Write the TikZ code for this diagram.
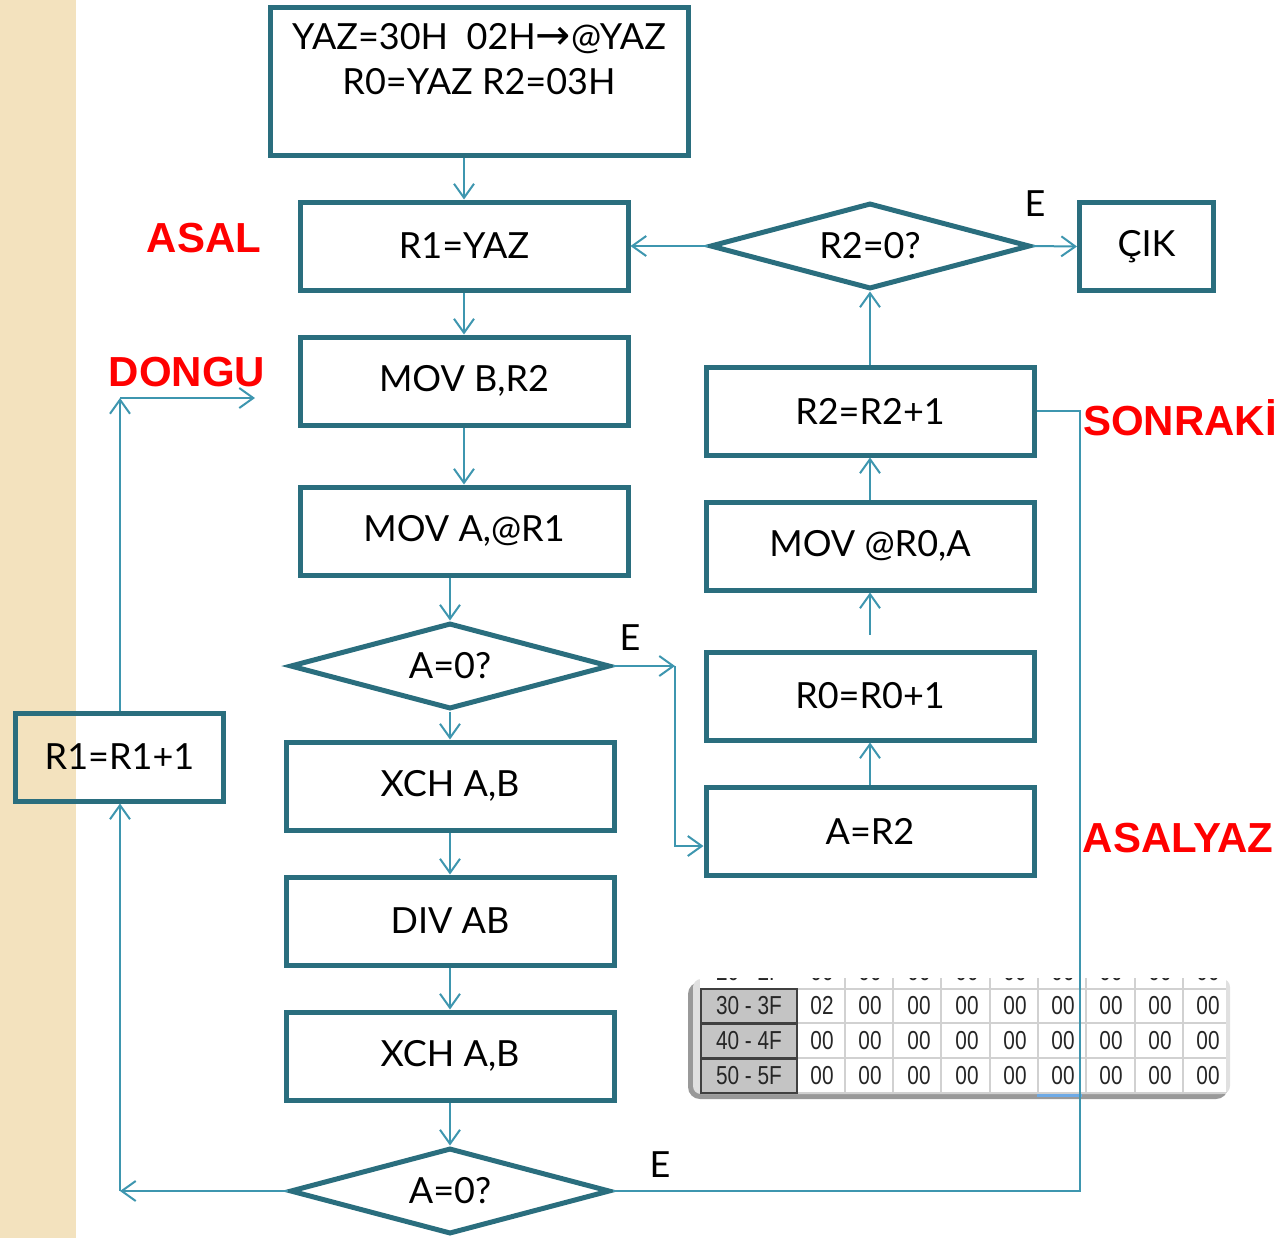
\documentclass[tikz,border=0pt]{standalone}
\usepackage{fontspec}
\setmainfont{Lato}
\newfontfamily\redfont{Liberation Sans}
\newfontfamily\tabfont[FakeStretch=0.8]{Liberation Sans}
\newfontfamily\symfont{DejaVu Sans}
\usetikzlibrary{shapes.geometric, arrows.meta, positioning}
\definecolor{boxteal}{RGB}{42,110,126}
\definecolor{lineteal}{RGB}{62,150,175}
\definecolor{strip}{RGB}{243,226,190}
\definecolor{hdgray}{RGB}{196,196,196}
\definecolor{selblue}{RGB}{110,170,230}

\begin{document}
\begin{tikzpicture}[x=0.5pt, y=-0.5pt,
  every node/.style={font=\fontsize{18}{22.5}\selectfont, inner sep=2pt},
  box/.style={draw=boxteal, line width=2.5pt, rectangle, minimum width=164pt, minimum height=44pt},
  dec/.style={draw=boxteal, line width=2.5pt, diamond, aspect=3.75, minimum width=160pt, minimum height=43pt, inner sep=0pt},
  arr/.style={draw=lineteal, line width=1pt, -{Straight Barb[length=7pt,width=10pt]}},
  link/.style={draw=lineteal, line width=1pt},
  lbl/.style={text=red, font=\redfont\bfseries\fontsize{21}{24}\selectfont},
  cell/.style={font=\tabfont\fontsize{13}{15}\selectfont, inner sep=0pt, text=black!85}]
\useasboundingbox (0,0) rectangle (1278,1238);
\fill[strip] (0,0) rectangle (76,1238);

% memory table
\fill[black!40, rounded corners=6pt] (688,982) rectangle (1228,1099);
\fill[black!12, rounded corners=4pt] (693,979) rectangle (1230,1094);
\fill[white] (700,978) rectangle (1226,1093);
\foreach \x in {845,893,941,990,1038,1086,1135,1183}
  \draw[black!18, line width=0.6pt] (\x,978) -- (\x,1093);
\foreach \y in {989,1023,1058,1093}
  \draw[black!18, line width=0.6pt] (797,\y) -- (1226,\y);
\begin{scope}
  \clip (700,978) rectangle (1226,988);
  \node[cell] (hd-20) at (749,972) {20 - 2F};
  \foreach \x in {822,870,919,967,1015,1063,1111,1160,1208}
    \node[cell] (c-\x-20) at (\x,972) {00};
\end{scope}
\foreach \hd/\y/\first in {30 - 3F/1006/02, 40 - 4F/1041/00, 50 - 5F/1076/00} {
  \draw[fill=hdgray, draw=black!75, line width=0.6pt] (701,{\y-17}) rectangle (797,{\y+17});
  \node[cell] (hd-\y) at (749,\y) {\hd};
  \node[cell] (c-822-\y) at (822,\y) {\first};
  \foreach \x in {870,919,967,1015,1063,1111,1160,1208}
    \node[cell] (c-\x-\y) at (\x,\y) {00};
}
\draw[selblue, line width=1.5pt] (1037,1095) -- (1082,1095);

% main column
\node[box, minimum width=209pt, minimum height=74pt, align=center] (init) at (479,81)
  {YAZ=30H\ \ 02H{\symfont\fontsize{21}{20}\selectfont→}@YAZ\\R0=YAZ R2=03H\\ };
\node[box] (r1yaz) at (464,246) {R1=YAZ};
\node[box] (movb) at (464,381) {MOV B,R2};
\node[box] (mova) at (464,531) {MOV A,@R1};
\node[dec] (test1) at (450,666) {A=0?};
\node[box] (xch1) at (450,786) {XCH A,B};
\node[box] (div) at (450,921) {DIV AB};
\node[box] (xch2) at (450,1056) {XCH A,B};
\node[dec] (test2) at (450,1191) {A=0?};
\node[box, minimum width=104pt] (incr1) at (119.5,757) {R1=R1+1};

% right column
\node[dec] (test3) at (870,246) {R2=0?};
\node[box, minimum width=67pt] (cik) at (1146.5,246.5) {ÇIK};
\node[box] (incr2) at (870,411) {R2=R2+1};
\node[box] (movr0) at (870,546) {MOV @R0,A};
\node[box] (incr0) at (870,696) {R0=R0+1};
\node[box] (ar2) at (870,831) {A=R2};

% labels
\node[lbl] (asal) at (204,238) {ASAL};
\node[lbl] (dongu) at (187,372) {DONGU};
\node[lbl] (sonraki) at (1180,418) {SONRAKİ};
\node[lbl] (asalyaz) at (1178,838) {ASALYAZ};
\node (e1) at (1035,204) {E};
\node (e2) at (630,638) {E};
\node (e3) at (660,1165) {E};

\coordinate (jump) at (675,666);
\coordinate (lowleft) at (120,1191);
\coordinate (upleft) at (120,398);
\coordinate (loopin) at (255,398);
\coordinate (rightrun) at (1080,1191);

% connectors
\draw[arr] (r1yaz.north |- init.south) -- (r1yaz.north);
\draw[arr] (r1yaz) -- (movb);
\draw[arr] (movb) -- (mova);
\draw[arr] (test1.north |- mova.south) -- (test1.north);
\draw[arr] (test1) -- (xch1);
\draw[arr] (xch1) -- (div);
\draw[arr] (div) -- (xch2);
\draw[arr] (xch2) -- (test2);
\draw[arr] (test1.east) -- (jump);
\draw[arr] (jump) |- ([yshift=-7.5pt]ar2.west);
\draw[arr] (ar2) -- (incr0);
\draw[arr, shorten <=7.5pt] (incr0) -- (movr0);
\draw[arr] (movr0) -- (incr2);
\draw[arr] (incr2) -- (test3);
\draw[arr] (test3.west) -- (r1yaz.east);
\draw[arr] (test3.east) -- (cik.west);
\draw[link] (test2.east) -- (rightrun) |- (incr2.east);
\draw[arr] (test2.west) -- (lowleft);
\draw[arr] (lowleft) -- (lowleft |- incr1.south);
\draw[arr] (lowleft |- incr1.north) -- (upleft);
\draw[arr] (upleft) -- (loopin);
\end{tikzpicture}
\end{document}
